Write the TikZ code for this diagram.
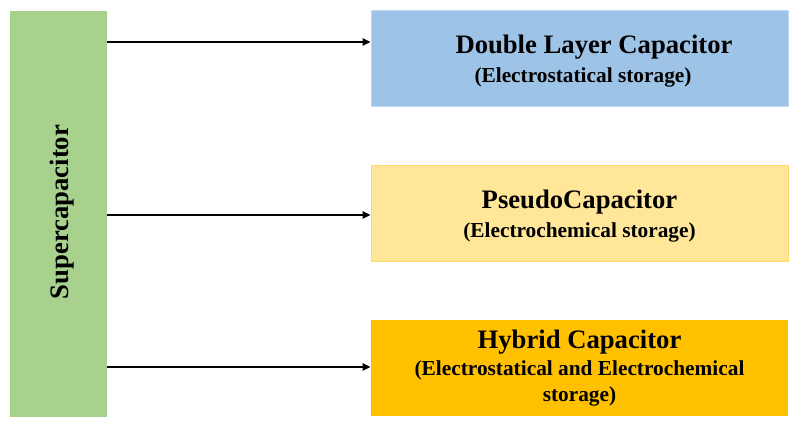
\documentclass[tikz,border=0pt]{standalone}
\usepackage{fontspec}
\setmainfont{Liberation Serif}
\usetikzlibrary{arrows.meta}

\definecolor{scgreen}{RGB}{169,209,142}
\definecolor{dlblue}{RGB}{157,195,230}
\definecolor{dlblueline}{RGB}{189,215,238}
\definecolor{pcyellow}{RGB}{255,230,153}
\definecolor{pcyellowline}{RGB}{255,217,102}
\definecolor{hcorange}{RGB}{255,192,0}

\tikzset{
  capbox/.style={rectangle, inner sep=0pt, line width=0.75pt, minimum width=312.75pt, minimum height=72pt},
  captitle/.style={anchor=base, inner sep=0.75pt, font=\fontsize{20}{24}\selectfont\bfseries},
  capsub/.style={anchor=base, inner sep=0.75pt, font=\fontsize{16}{19}\selectfont\bfseries},
  linkarrow/.style={line width=1.8pt, -{Triangle[length=6pt,width=5.5pt]}}
}

\begin{document}
\begin{tikzpicture}[x=0.75pt,y=0.75pt,yscale=-1,xscale=1]
\useasboundingbox (0,0) rectangle (800,427);

%Shape: Rectangle [id:sc]
\node (sc) [rectangle, inner sep=0pt, fill=scgreen, minimum width=72.75pt, minimum height=304.5pt] at (58.5,214) {};
%Shape: Rectangle [id:dlc]
\node (dlc) [capbox, fill=dlblue, draw=dlblueline] at (579.5,59) {};
%Shape: Rectangle [id:pc]
\node (pc) [capbox, fill=pcyellow, draw=pcyellowline] at (579.5,213.5) {};
%Shape: Rectangle [id:hc]
\node (hc) [capbox, fill=hcorange] at (579.5,368.5) {};

% Text Node
\node (sctext) [anchor=base, inner sep=0.75pt, rotate=90, font=\fontsize{20}{24}\selectfont\bfseries] at (68,212) {Supercapacitor};
% Text Node
\node (dlctitle) [captitle] at (594,54) {Double Layer Capacitor};
% Text Node
\node (dlcsub) [capsub] at (583,83) {(Electrostatical storage)};
% Text Node
\node (pctitle) [captitle] at (579.5,209) {PseudoCapacitor};
% Text Node
\node (pcsub) [capsub] at (579.5,238) {(Electrochemical storage)};
% Text Node
\node (hctitle) [captitle] at (579.5,349) {Hybrid Capacitor};
% Text Node
\node (hcsub) [capsub] at (579.5,376) {(Electrostatical and Electrochemical};
% Text Node
\node (hcsubb) [capsub] at (579.5,402) {storage)};

%Straight Lines
\coordinate (ya) at (0,42);
\coordinate (yb) at (0,215);
\coordinate (yc) at (0,367);
\draw [linkarrow] (sc.east |- ya) -- (dlc.west |- ya);
\draw [linkarrow] (sc.east |- yb) -- (pc.west |- yb);
\draw [linkarrow] (sc.east |- yc) -- (hc.west |- yc);

\end{tikzpicture}
\end{document}
